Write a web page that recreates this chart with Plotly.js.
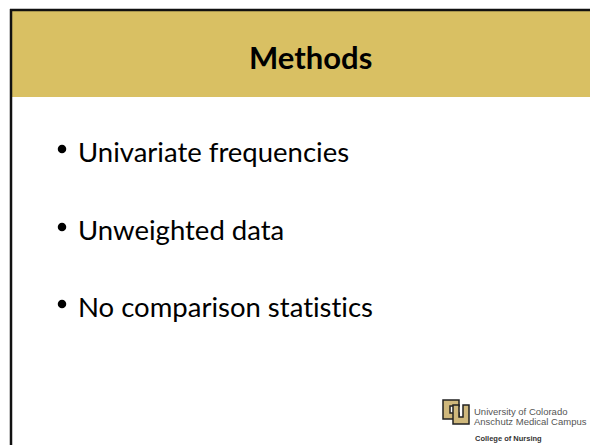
<!DOCTYPE html>
<html><head><meta charset="utf-8">
<script src="https://cdn.plot.ly/plotly-3.0.1.min.js"></script>
<style>html,body{margin:0;padding:0;background:#fff}#c{width:590px;height:445px}
text{font-variant-ligatures:none;font-feature-settings:"liga" 0,"clig" 0;}</style>
</head><body><div id="c"></div>
<script>
const slideTitle = "Methods";
const bullets = ["Univariate frequencies", "Unweighted data", "No comparison statistics"];
const bulletRows = [150, 228, 305];
const logoLines = ["University of Colorado", "Anschutz Medical Campus"];
const logoSub = "College of Nursing";

const W = 590, H = 445;
const gold = "#D9C063";
const font = "Lato, 'Open Sans', sans-serif";
const logoFont = "'Liberation Sans', Arial, sans-serif";

const shapes = [
  {type:"rect", xref:"x", yref:"y", x0:11, x1:600, y0:10, y1:97, fillcolor:gold, line:{width:0}, layer:"below"},
  {type:"line", xref:"x", yref:"y", x0:10, x1:600, y0:10, y1:10, line:{color:"#111", width:2.5}},
  {type:"line", xref:"x", yref:"y", x0:11, x1:11, y0:9, y1:450, line:{color:"#111", width:2.5}},
  // logo icon (C and U)
  {type:"path", xref:"x", yref:"y", path:"M443,400 L459,400 L459,406 L450,406 L450,413 L459,413 L459,419 L443,419 Z",
   fillcolor:"#CFB87C", line:{color:"#222", width:1.5}},
  {type:"path", xref:"x", yref:"y", path:"M453,405 L459,405 L459,417 L463,417 L463,405 L469,405 L469,424 L453,424 Z",
   fillcolor:"#CFB87C", line:{color:"#222", width:1.5}}
];

const annotations = [
  {x:310, y:57, xref:"x", yref:"y", text:"<b>"+slideTitle+"</b>", showarrow:false,
   font:{family:font, size:31, color:"#000"}, xanchor:"center", yanchor:"middle"}
];
bullets.forEach((b,i)=>{
  annotations.push({x:76, y:bulletRows[i]+1, xref:"x", yref:"y", text:b, showarrow:false,
    font:{family:font, size:27.5, color:"#000"}, xanchor:"left", yanchor:"middle"});
});
const bulletDots = {x: bullets.map(()=>62), y: bulletRows.map(r=>r-1), mode:"markers", type:"scatter",
  marker:{size:8.5, color:"#000"}, hoverinfo:"skip", showlegend:false};

logoLines.forEach((t,i)=>{
  annotations.push({x:472, y:411+i*10.5, xref:"x", yref:"y", text:t, showarrow:false,
    font:{family:logoFont, size:9.5, color:"#555"}, xanchor:"left", yanchor:"middle"});
});
annotations.push({x:473, y:438, xref:"x", yref:"y", text:"<b>"+logoSub+"</b>", showarrow:false,
  font:{family:logoFont, size:7.5, color:"#333"}, xanchor:"left", yanchor:"middle"});

Plotly.newPlot("c", [bulletDots], {
  width:W, height:H, margin:{l:0,r:0,t:0,b:0},
  paper_bgcolor:"#fff", plot_bgcolor:"#fff",
  xaxis:{range:[0,W], visible:false, fixedrange:true},
  yaxis:{range:[H,0], visible:false, fixedrange:true},
  shapes:shapes, annotations:annotations, showlegend:false
}, {displayModeBar:false, staticPlot:true});
</script></body></html>
